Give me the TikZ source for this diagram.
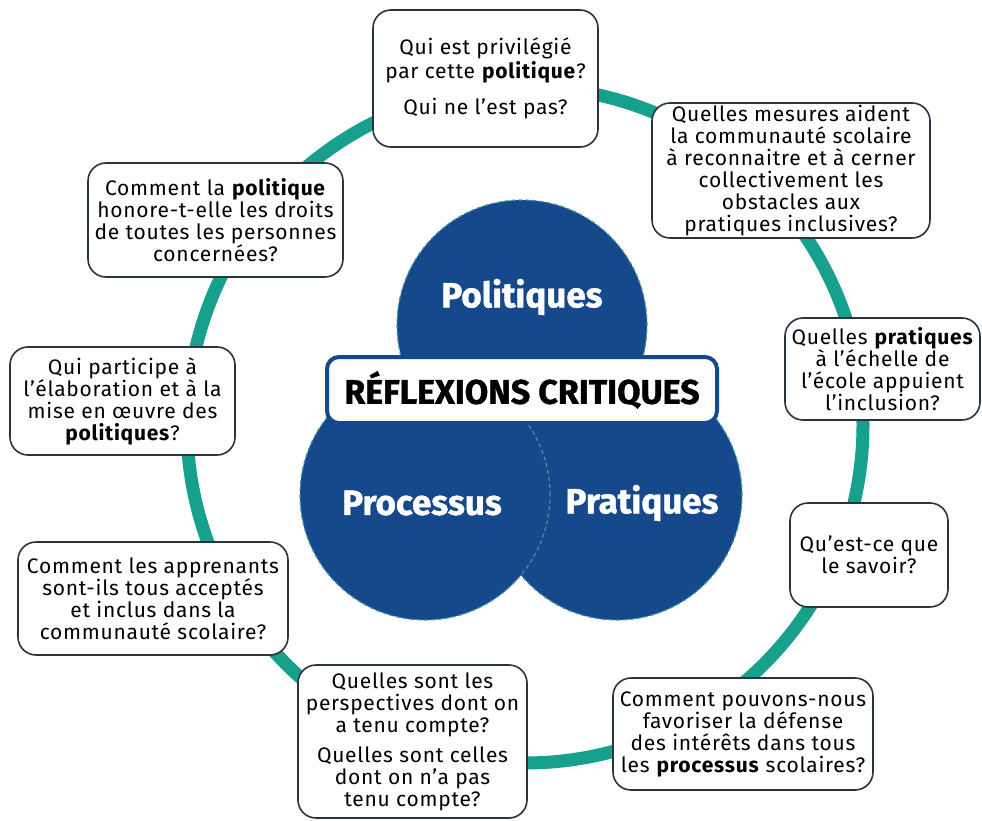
\documentclass[tikz,border=0pt]{standalone}
\usepackage{fontspec}
\setmainfont{Fira Sans}
\newfontfamily\heavyfont[BoldFeatures={FakeBold=1.2}]{Fira Sans}
\newfontfamily\qfamily[LetterSpace=3.5]{Fira Sans}
\definecolor{ringc}{RGB}{23,160,140}
\definecolor{bluec}{RGB}{21,73,139}
\definecolor{boxc}{RGB}{42,52,64}
\definecolor{dashc}{RGB}{70,150,160}
\newcommand\qfont{\qfamily\fontsize{21}{22}\selectfont}
\newcommand\lblfont{\heavyfont\bfseries\fontsize{35}{35}\selectfont}
\begin{document}
\begin{tikzpicture}[x=1pt,y=-1pt,
  qbox/.style={draw=boxc, line width=1.6pt, fill=white, rounded corners=18pt,
    align=center, inner sep=0pt, font=\qfont, text=black},
  bigc/.style={circle, fill=bluec, draw=dashc, dash pattern=on 4pt off 3pt,
    line width=1.2pt, minimum size=250pt, inner sep=0pt},
  lbl/.style={text=white, font=\lblfont, inner sep=0pt},
  ring/.style={draw=ringc, line width=13pt}]
\useasboundingbox (0,0) rectangle (982,821);
% outer ring
\draw[ring] (525,425) circle[radius=338pt];
% three circles
\node[bigc] (poli) at (522,325) {};
\node[bigc] (prat) at (617,495) {};
\node[bigc] (proc) at (425,495) {};
\node[lbl] (tpoli) at (522,297) {Politiques};
\node[lbl] (tproc) at (422,503) {Processus};
\node[lbl] (tprat) at (642,503) {Pratiques};
% banner
\node[draw=bluec, line width=4pt, fill=white, rounded corners=12pt,
  minimum width=390pt, minimum height=66pt, inner sep=0pt,
  font=\heavyfont\bfseries\fontsize{34}{34}\selectfont] (banner) at (522,390) {RÉFLEXIONS CRITIQUES};
% question boxes
\node[qbox, minimum width=225pt, minimum height=137pt] (q1) at (485.5,78.5)
  {Qui est privilégié\\[2pt] par cette \textbf{politique}?\\[14pt] Qui ne l’est pas?};
\node[qbox, minimum width=278pt, minimum height=135pt] (q2) at (791,170.5)
  {Quelles mesures aident\\ la communauté scolaire\\ à reconnaitre et à cerner\\ collectivement les\\ obstacles aux\\ pratiques inclusives?};
\node[qbox, minimum width=195pt, minimum height=102pt] (q3) at (882.5,369)
  {Quelles \textbf{pratiques}\\ à l’échelle de\\ l’école appuient\\ l’inclusion?};
\node[qbox, minimum width=158pt, minimum height=104pt] (q4) at (869,555)
  {Qu’est-ce que\\ le savoir?};
\node[qbox, minimum width=260pt, minimum height=112pt] (q5) at (743,734)
  {Comment pouvons-nous\\ favoriser la défense\\ des intérêts dans tous\\ les \textbf{processus} scolaires?};
\node[qbox, minimum width=229pt, minimum height=153pt] (q6) at (412.5,741.5)
  {Quelles sont les\\ perspectives dont on\\ a tenu compte?\\[8pt] Quelles sont celles\\ dont on n’a pas\\ tenu compte?};
\node[qbox, minimum width=270pt, minimum height=113pt] (q7) at (153,598.5)
  {Comment les apprenants\\ sont-ils tous acceptés\\ et inclus dans la\\ communauté scolaire?};
\node[qbox, minimum width=225pt, minimum height=108pt] (q8) at (122.5,401)
  {Qui participe à\\ l’élaboration et à la\\ mise en œuvre des\\ \textbf{politiques}?};
\node[qbox, minimum width=255pt, minimum height=114pt] (q9) at (215.5,220)
  {Comment la \textbf{politique}\\ honore-t-elle les droits\\ de toutes les personnes\\ concernées?};
\end{tikzpicture}
\end{document}
